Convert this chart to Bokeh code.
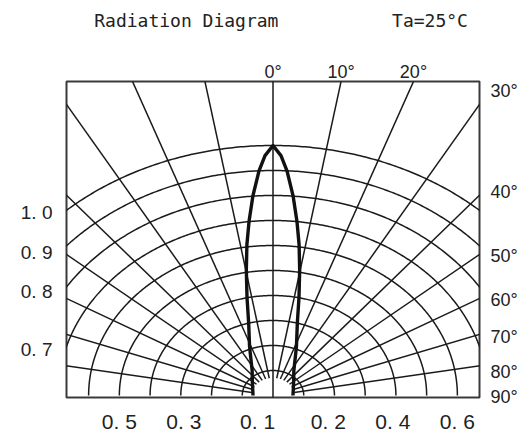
import numpy as np
from bokeh.plotting import figure
from bokeh.models import LinearAxis, FixedTicker, Range1d
from bokeh.embed import file_html
from bokeh.resources import INLINE

# ---------------- data ----------------
# radiation pattern (angle from axis in degrees, relative intensity)
LOBE_ANGLE = [0, 1.55, 2.9, 4.7, 6.4, 8.0, 9.8, 12.2, 15.3, 21.3, 34.4, 53, 90]
LOBE_INTENSITY = [1.0, 0.96, 0.90, 0.80, 0.70, 0.61, 0.51, 0.40, 0.30, 0.21, 0.12, 0.084, 0.065]

# polar grid
ARC_RADII = [0.1, 0.2, 0.3, 0.4, 0.5, 0.6, 0.7, 0.8, 0.9, 1.0]
GRID_ANGLES = [10, 20, 30, 40, 50, 60, 70, 80]

# tick labels
TOP_ANGLES = [0, 10, 20]
TOP_LABELS = ["0°", "10°", "20°"]
RIGHT_LABELS = ["30°", "40°", "50°", "60°", "70°", "80°", "90°"]
RIGHT_TICKS = [1.22, 0.816, 0.56, 0.384, 0.236, 0.096, -0.004]
LEFT_LABELS = ["1. 0", "0. 9", "0. 8", "0. 7"]
LEFT_TICKS = [0.732, 0.572, 0.416, 0.184]
BOTTOM_LABELS = ["0. 5", "0. 3", "0. 1", "0. 2", "0. 4", "0. 6"]
BOTTOM_TICKS = [-0.5, -0.29, -0.05, 0.18, 0.39, 0.6]

HEADER_LABELS = ["Radiation Diagram", "Ta=25°C"]
HEADER_TICKS = [-0.282, 0.511]

# ---------------- figure ----------------
X_HALF = 0.672
Y_BOTTOM, Y_TOP = -0.008, 1.256

p = figure(width=530, height=435,
           x_range=Range1d(-X_HALF, X_HALF), y_range=Range1d(Y_BOTTOM, Y_TOP),
           output_backend="svg", toolbar_location=None,
           min_border_left=66, min_border_right=51,
           min_border_top=81, min_border_bottom=38)
p.xgrid.visible = False
p.ygrid.visible = False
p.outline_line_color = "#3a3a3a"
p.outline_line_width = 2
p.background_fill_color = "white"
p.border_fill_color = "white"

GRID_COLOR = "#1a1a1a"
GRID_W = 1.5

# arcs (circles in data space, stretched by the unequal scales)
t = np.radians(np.linspace(-90, 90, 361))
arc_xs = [list(r * np.sin(t)) for r in ARC_RADII]
arc_ys = [list(r * np.cos(t)) for r in ARC_RADII]
p.multi_line(arc_xs, arc_ys, line_color=GRID_COLOR, line_width=GRID_W)

# radial lines
rad_xs, rad_ys = [], []
for a in GRID_ANGLES:
    for s in (-1, 1):
        th = np.radians(s * a)
        rad_xs.append([0.07 * np.sin(th), 2.5 * np.sin(th)])
        rad_ys.append([0.07 * np.cos(th), 2.5 * np.cos(th)])
rad_xs.append([0, 0])
rad_ys.append([-1, 3])
p.multi_line(rad_xs, rad_ys, line_color=GRID_COLOR, line_width=GRID_W)

# lobe
ang = np.radians(np.array([-a for a in LOBE_ANGLE[::-1]] + LOBE_ANGLE[1:]))
inten = np.array(LOBE_INTENSITY[::-1] + LOBE_INTENSITY[1:])
p.line(inten * np.sin(ang), inten * np.cos(ang), line_color="#111111",
       line_width=3.4, line_join="round")

# ---------------- axes ----------------
FONT = "Liberation Sans"

def style(ax, size="19px", standoff=10, font=FONT):
    ax.axis_line_color = None
    ax.major_tick_line_color = None
    ax.minor_tick_line_color = None
    ax.major_tick_in = 0
    ax.major_tick_out = 0
    ax.minor_tick_in = 0
    ax.minor_tick_out = 0
    ax.major_label_text_font = font
    ax.major_label_text_font_size = size
    ax.major_label_text_color = "#222222"
    ax.major_label_standoff = standoff

left = p.yaxis[0]
left.ticker = FixedTicker(ticks=LEFT_TICKS)
left.major_label_overrides = {v: s for v, s in zip(LEFT_TICKS, LEFT_LABELS)}
style(left, standoff=14)

bottom = p.xaxis[0]
bottom.ticker = FixedTicker(ticks=BOTTOM_TICKS)
bottom.major_label_overrides = {v: s for v, s in zip(BOTTOM_TICKS, BOTTOM_LABELS)}
style(bottom, size="21px", standoff=12)

right = LinearAxis(ticker=FixedTicker(ticks=RIGHT_TICKS))
right.major_label_overrides = {v: s for v, s in zip(RIGHT_TICKS, RIGHT_LABELS)}
style(right, size="18px", standoff=11)
p.add_layout(right, "right")

top_ticks = [float(Y_TOP * np.tan(np.radians(a))) for a in TOP_ANGLES]
top = LinearAxis(ticker=FixedTicker(ticks=top_ticks))
top.major_label_overrides = {v: s for v, s in zip(top_ticks, TOP_LABELS)}
style(top, size="18px", standoff=0)
p.add_layout(top, "above")

header = LinearAxis(ticker=FixedTicker(ticks=HEADER_TICKS))
header.major_label_overrides = {v: s for v, s in zip(HEADER_TICKS, HEADER_LABELS)}
style(header, size="18px", standoff=28, font="DejaVu Sans Mono")
p.add_layout(header, "above")

open("out.html", "w").write(file_html(p, INLINE))
